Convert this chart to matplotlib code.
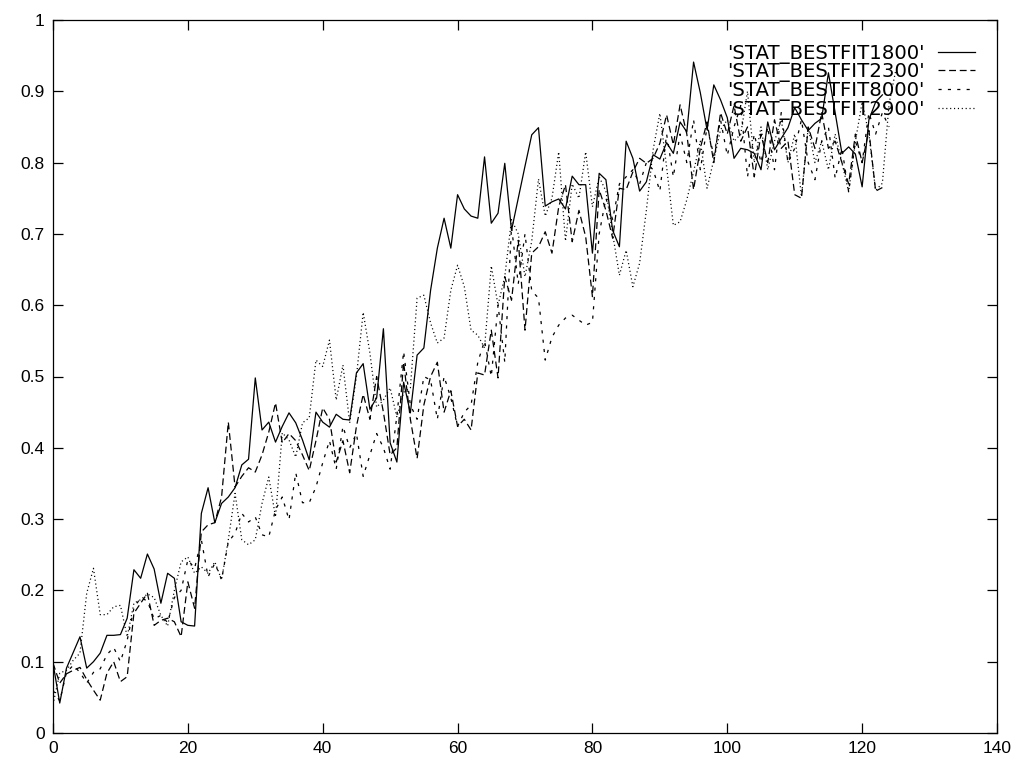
import matplotlib
matplotlib.use("Agg")
import matplotlib.pyplot as plt
from matplotlib.ticker import FixedLocator, FixedFormatter

s1800 = [0.098, 0.042, 0.091, 0.113, 0.135, 0.091, 0.100, 0.112, 0.137, 0.137,
         0.138, 0.161, 0.229, 0.217, 0.251, 0.230, 0.182, 0.224, 0.217, 0.156,
         0.151, 0.150, 0.308, 0.344, 0.295, 0.322, 0.331, 0.344, 0.376, 0.384,
         0.498, 0.425, 0.436, 0.408, 0.430, 0.449, 0.435, 0.411, 0.383, 0.450,
         0.436, 0.429, 0.447, 0.440, 0.439, 0.505, 0.518, 0.454, 0.470, 0.567,
         0.407, 0.380, 0.492, 0.449, 0.530, 0.540, 0.621, 0.680, 0.722, 0.680,
         0.755, 0.735, 0.725, 0.722, 0.808, 0.715, 0.729, 0.799, 0.705, 0.750,
         0.795, 0.839, 0.849, 0.739, 0.745, 0.749, 0.735, 0.781, 0.769, 0.769,
         0.673, 0.785, 0.776, 0.705, 0.682, 0.830, 0.806, 0.760, 0.773, 0.811,
         0.805, 0.828, 0.813, 0.857, 0.843, 0.941, 0.898, 0.846, 0.909, 0.888,
         0.863, 0.806, 0.820, 0.818, 0.813, 0.790, 0.857, 0.818, 0.834, 0.849,
         0.877, 0.860, 0.845, 0.855, 0.862, 0.926, 0.870, 0.813, 0.822, 0.812,
         0.766, 0.860, 0.885, 0.895]

s2300 = [0.098, 0.070, 0.083, 0.088, 0.092, 0.075, 0.060, 0.046, 0.084, 0.100,
         0.072, 0.079, 0.168, 0.182, 0.196, 0.151, 0.158, 0.161, 0.156, 0.135,
         0.212, 0.175, 0.282, 0.292, 0.295, 0.331, 0.436, 0.345, 0.360, 0.372,
         0.366, 0.390, 0.422, 0.463, 0.407, 0.420, 0.410, 0.390, 0.368, 0.410,
         0.456, 0.440, 0.380, 0.410, 0.365, 0.430, 0.475, 0.440, 0.500, 0.450,
         0.390, 0.400, 0.520, 0.440, 0.385, 0.460, 0.500, 0.520, 0.450, 0.480,
         0.430, 0.440, 0.425, 0.505, 0.502, 0.565, 0.498, 0.640, 0.607, 0.691,
         0.565, 0.673, 0.682, 0.703, 0.673, 0.738, 0.769, 0.689, 0.733, 0.696,
         0.612, 0.762, 0.733, 0.694, 0.764, 0.762, 0.787, 0.806, 0.799, 0.806,
         0.827, 0.867, 0.825, 0.881, 0.840, 0.762, 0.820, 0.857, 0.800, 0.870,
         0.840, 0.880, 0.830, 0.850, 0.780, 0.840, 0.800, 0.860, 0.820, 0.830,
         0.755, 0.750, 0.850, 0.820, 0.870, 0.820, 0.830, 0.800, 0.770, 0.840,
         0.800, 0.845, 0.760, 0.765]

s8000 = [0.060, 0.045, 0.085, 0.095, 0.085, 0.070, 0.085, 0.090, 0.110, 0.120,
         0.100, 0.130, 0.175, 0.190, 0.185, 0.160, 0.165, 0.155, 0.190, 0.200,
         0.243, 0.231, 0.271, 0.219, 0.238, 0.215, 0.268, 0.280, 0.308, 0.296,
         0.303, 0.278, 0.275, 0.313, 0.331, 0.299, 0.365, 0.323, 0.323, 0.345,
         0.379, 0.410, 0.370, 0.430, 0.400, 0.420, 0.360, 0.390, 0.420, 0.400,
         0.370, 0.445, 0.535, 0.460, 0.440, 0.500, 0.495, 0.440, 0.500, 0.470,
         0.430, 0.450, 0.460, 0.520, 0.550, 0.500, 0.600, 0.520, 0.710, 0.630,
         0.700, 0.620, 0.610, 0.523, 0.555, 0.572, 0.582, 0.586, 0.579, 0.572,
         0.576, 0.700, 0.750, 0.720, 0.770, 0.780, 0.790, 0.770, 0.800, 0.790,
         0.760, 0.840, 0.780, 0.840, 0.800, 0.860, 0.790, 0.850, 0.810, 0.860,
         0.810, 0.850, 0.880, 0.780, 0.840, 0.800, 0.850, 0.790, 0.870, 0.800,
         0.820, 0.860, 0.800, 0.776, 0.830, 0.850, 0.778, 0.820, 0.759, 0.830,
         0.800, 0.870, 0.840, 0.870, 0.850]

s2900 = [0.040, 0.084, 0.088, 0.102, 0.112, 0.196, 0.231, 0.166, 0.166, 0.177,
         0.179, 0.135, 0.182, 0.187, 0.195, 0.190, 0.165, 0.150, 0.200, 0.240,
         0.247, 0.224, 0.233, 0.224, 0.240, 0.215, 0.271, 0.336, 0.271, 0.264,
         0.271, 0.322, 0.359, 0.303, 0.421, 0.411, 0.387, 0.435, 0.442, 0.523,
         0.514, 0.551, 0.467, 0.516, 0.435, 0.500, 0.590, 0.533, 0.457, 0.467,
         0.484, 0.443, 0.478, 0.484, 0.610, 0.614, 0.575, 0.547, 0.554, 0.621,
         0.656, 0.626, 0.565, 0.558, 0.540, 0.655, 0.600, 0.640, 0.720, 0.700,
         0.640, 0.690, 0.777, 0.725, 0.750, 0.815, 0.690, 0.770, 0.750, 0.815,
         0.738, 0.780, 0.760, 0.700, 0.642, 0.677, 0.626, 0.659, 0.733, 0.818,
         0.869, 0.794, 0.712, 0.717, 0.748, 0.787, 0.830, 0.764, 0.804, 0.846,
         0.860, 0.830, 0.840, 0.900, 0.800, 0.850, 0.790, 0.830, 0.860, 0.800,
         0.840, 0.752, 0.850, 0.800, 0.830, 0.790, 0.840, 0.800, 0.759, 0.830,
         0.885, 0.840, 0.761, 0.771, 0.883, 0.930]

series_labels = ["'STAT_BESTFIT1800'", "'STAT_BESTFIT2300'",
                 "'STAT_BESTFIT8000'", "'STAT_BESTFIT2900'"]
x_ticks = [0, 20, 40, 60, 80, 100, 120, 140]
x_tick_labels = ["0", "20", "40", "60", "80", "100", "120", "140"]
y_ticks = [0, 0.1, 0.2, 0.3, 0.4, 0.5, 0.6, 0.7, 0.8, 0.9, 1.0]
y_tick_labels = ["0", "0.1", "0.2", "0.3", "0.4", "0.5", "0.6", "0.7", "0.8", "0.9", "1"]

plt.rcParams['font.family'] = ['Liberation Sans', 'DejaVu Sans']

fig = plt.figure(figsize=(10.18, 7.64), dpi=100)
ax = fig.add_axes([53 / 1018, 31 / 764, 944 / 1018, 713 / 764])

lw = 0.9
styles = [dict(linestyle='-'),
          dict(linestyle=(0, (5.5, 3.0))),
          dict(linestyle=(0, (2.5, 5.0))),
          dict(linestyle=(0, (0.9, 2.2)))]
data = [s1800, s2300, s8000, s2900]
for vals, lab, st in zip(data, series_labels, styles):
    ax.plot(range(len(vals)), vals, color='black', linewidth=lw, label=lab, **st)

ax.set_xlim(0, 140)
ax.set_ylim(0, 1)
ax.xaxis.set_major_locator(FixedLocator(x_ticks))
ax.xaxis.set_major_formatter(FixedFormatter(x_tick_labels))
ax.yaxis.set_major_locator(FixedLocator(y_ticks))
ax.yaxis.set_major_formatter(FixedFormatter(y_tick_labels))
ax.tick_params(direction='in', length=7, width=0.9, top=True, right=True,
               labelsize=12.5, pad=6)
for sp in ax.spines.values():
    sp.set_linewidth(0.9)

leg = ax.legend(loc='upper right', bbox_to_anchor=(0.9767, 0.967),
                frameon=False, markerfirst=False,
                prop={'family': ['DejaVu Sans'], 'size': 14.2},
                handlelength=1.9, handletextpad=0.65,
                labelspacing=-0.06, borderaxespad=0.0, borderpad=0.0)

fig.savefig('out.png', dpi=100)
